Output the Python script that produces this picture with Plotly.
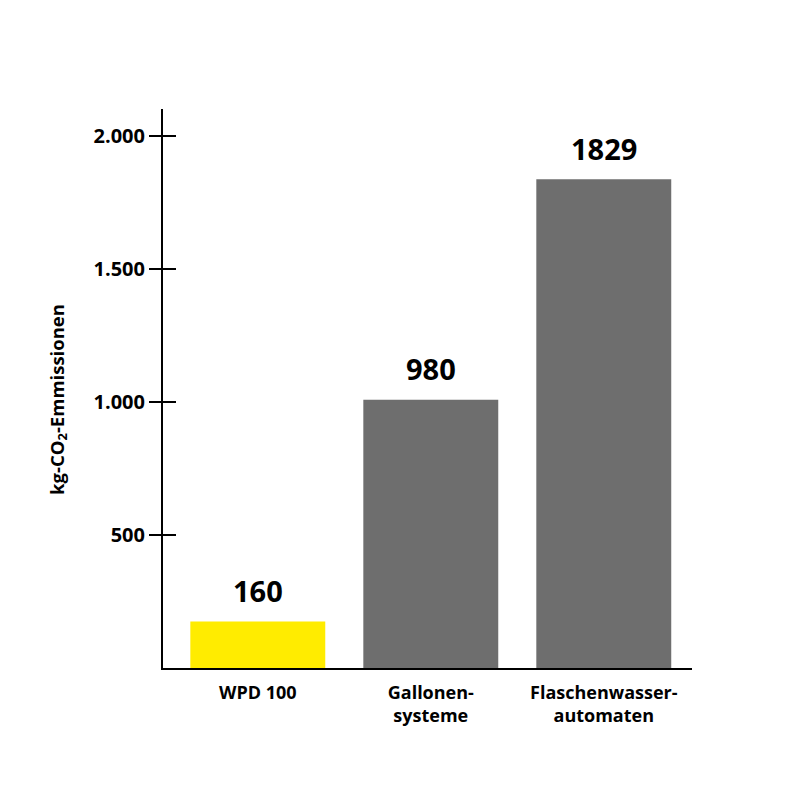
import plotly.graph_objects as go

# Categories and values
categories = ["WPD 100", "Gallonen-<br>systeme", "Flaschenwasser-<br>automaten"]
bar_values = [175, 1009, 1839]
value_labels = ["160", "980", "1829"]
bar_colors = ["#FFEC00", "#6E6E6E", "#6E6E6E"]
tick_values = [500, 1000, 1500, 2000]

font_family = "Open Sans"

fig = go.Figure()

fig.add_trace(go.Bar(
    x=categories,
    y=bar_values,
    marker=dict(color=bar_colors, line=dict(width=0)),
    width=0.78,
    hoverinfo="skip",
    showlegend=False
))

# invisible trace so the second (inside-tick) axis gets drawn
fig.add_trace(go.Scatter(
    x=categories,
    y=bar_values,
    mode="markers",
    marker=dict(opacity=0),
    yaxis="y2",
    hoverinfo="skip",
    showlegend=False
))

# value labels above the bars
for cat, val, lab in zip(categories, bar_values, value_labels):
    fig.add_annotation(
        x=cat, y=val, text=f"<b>{lab}</b>",
        showarrow=False, yanchor="middle", yshift=31,
        font=dict(family=font_family, size=29, color="black")
    )

# y axis title, placed a bit below the axis middle like the reference
fig.add_annotation(
    xref="paper", yref="paper", x=-0.2, y=0.48,
    text="<b>kg-CO<sub>2</sub>-Emmissionen</b>", textangle=-90,
    showarrow=False, xanchor="center", yanchor="middle",
    font=dict(family=font_family, size=18.5, color="black")
)

y_range = [0, 2103]

fig.update_layout(
    width=800, height=800,
    margin=dict(l=155, r=116, t=101, b=140),
    plot_bgcolor="white",
    paper_bgcolor="white",
    separators=",.",
    font=dict(family=font_family, color="black"),
    xaxis=dict(
        range=[-0.548, 2.51],
        showline=True, linecolor="black", linewidth=2,
        ticks="", showgrid=False, zeroline=False,
        tickfont=dict(family=font_family, size=18, color="black", weight="bold"),
        ticklabelstandoff=7,
    ),
    yaxis=dict(
        range=y_range,
        showline=True, linecolor="black", linewidth=2,
        ticks="outside", ticklen=12, tickwidth=2, tickcolor="black",
        tickvals=tick_values, tickformat=",d",
        showgrid=False, zeroline=False,
        tickfont=dict(family=font_family, size=20, color="black", weight="bold"),
        ticklabelstandoff=0,
    ),
    yaxis2=dict(
        range=y_range, overlaying="y", side="left",
        ticks="inside", ticklen=13, tickwidth=2, tickcolor="black",
        tickvals=tick_values, showticklabels=False,
        showgrid=False, zeroline=False, showline=False,
    ),
)

fig.write_html("out.html")
